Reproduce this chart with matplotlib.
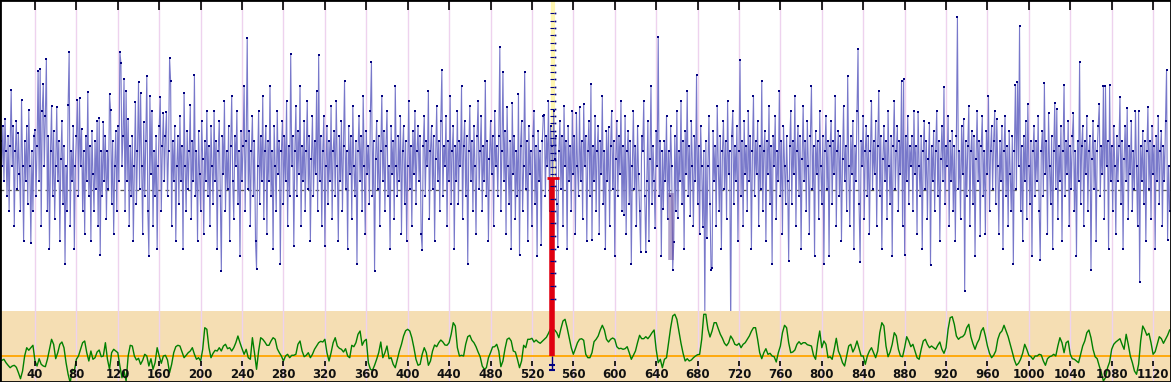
import numpy as np
import matplotlib
matplotlib.use("Agg")
import matplotlib.pyplot as plt
from matplotlib.patches import Rectangle

# blue series: height above the bottom of the upper panel, one value per step from x=7
blue = [
    170,145,185,130,192,160,115,175,100,165,221,145,185,85,160,190,122,178,137,100,211,145,70,170,130,185,107,201,145,68,160,100,175,181,115,165,240,130,242,85,
    200,227,145,195,252,100,175,62,160,205,115,180,92,145,204,130,170,70,152,190,107,165,47,145,100,206,259,85,160,130,185,62,145,175,211,115,213,145,182,100,
    160,77,175,130,219,115,165,70,180,137,100,170,122,190,85,193,56,160,115,189,130,175,92,160,122,217,201,107,170,77,145,180,100,185,130,259,248,145,175,232,
    100,220,130,192,85,165,115,175,70,145,209,107,160,229,122,218,145,77,189,115,170,235,100,55,215,137,200,85,160,115,175,62,145,185,214,100,165,198,130,175,
    199,115,160,253,230,85,170,130,185,70,145,175,107,195,130,165,62,218,145,100,180,122,160,206,92,170,130,236,115,160,70,180,137,100,190,152,77,170,130,200,
    115,165,85,185,145,107,200,130,170,62,160,190,115,40,175,137,210,100,160,122,185,70,165,215,130,92,175,145,200,107,160,55,180,130,165,225,100,170,273,122,
    180,85,160,195,115,170,70,42,145,200,107,175,130,215,92,160,185,77,170,130,225,115,160,62,185,145,100,200,137,170,47,160,190,107,175,130,210,85,165,115,
    257,145,175,65,160,205,115,180,137,225,85,165,130,190,100,160,210,122,175,70,152,195,115,170,137,220,100,256,130,175,85,160,195,65,145,185,107,170,130,205,
    92,160,180,115,210,145,70,175,130,190,100,165,230,122,160,62,185,137,175,92,205,145,115,170,47,160,195,130,175,100,215,145,77,180,137,165,107,200,249,115,
    170,40,152,190,122,175,85,160,215,130,180,100,165,200,115,145,62,185,137,170,92,225,145,115,175,130,195,77,160,185,107,170,70,145,210,122,165,85,180,137,
    200,107,160,185,130,175,77,61,165,195,115,170,145,220,92,160,185,122,175,70,152,205,130,170,100,190,241,115,165,145,195,85,170,130,215,107,160,185,62,165,
    130,200,107,170,145,225,92,165,190,115,175,47,160,205,130,170,100,185,145,77,175,210,122,160,195,100,165,130,230,115,170,70,152,190,137,175,85,200,145,165,
    115,175,264,100,160,239,130,180,77,204,145,107,170,62,208,137,175,92,160,115,217,56,165,190,100,145,239,122,170,70,185,137,160,85,175,200,107,165,55,180,
    130,160,66,170,195,196,115,175,145,210,100,185,165,130,200,152,175,107,64,160,190,122,175,85,205,145,170,62,185,130,165,100,200,137,175,77,198,145,115,204,
    130,170,92,207,145,175,70,160,190,115,227,71,165,130,195,100,160,185,77,170,137,215,107,160,62,180,130,184,85,165,200,122,170,55,152,190,115,175,137,210,
    100,165,96,195,77,160,180,107,170,47,145,200,122,165,85,185,137,100,59,175,160,210,115,59,130,190,70,152,225,107,165,130,83,180,145,274,115,170,55,160,
    102,170,130,195,92,160,115,185,145,41,69,175,100,200,93,160,130,210,107,170,62,180,137,220,115,165,95,190,145,85,175,130,236,107,165,77,185,145,84,160,
    -2,170,73,145,195,107,41,43,180,130,165,85,205,145,100,175,62,160,190,122,170,92,210,137,160,-19,175,200,107,165,130,185,70,160,251,115,170,85,190,137,
    165,100,200,130,175,62,160,215,115,170,137,190,85,165,122,230,100,160,180,70,170,137,205,107,165,47,175,145,195,92,160,130,220,115,170,77,185,145,107,175,
    130,50,165,200,107,170,137,215,85,160,185,115,175,62,152,205,130,170,100,190,145,77,175,225,122,165,55,180,137,170,92,200,145,107,175,47,160,195,122,170,
    55,165,190,107,170,137,215,85,160,180,115,175,70,152,205,130,165,100,235,145,85,175,137,190,62,165,130,200,262,107,49,170,145,195,92,160,185,115,175,77,
    160,210,122,170,137,190,85,165,220,115,175,62,152,185,130,170,92,200,145,107,175,55,165,210,122,160,185,100,170,137,230,85,232,56,175,130,195,107,165,145,
    175,100,200,137,165,77,199,145,115,175,62,160,190,122,170,92,152,188,46,165,130,180,100,160,200,115,170,70,152,185,130,224,107,165,145,195,85,170,130,180,
    100,165,70,175,294,122,160,92,185,137,192,20,170,115,165,205,85,160,180,107,175,55,152,200,130,170,75,165,195,115,160,77,180,137,215,100,160,185,122,170,
    200,107,192,145,77,170,130,185,62,160,195,115,165,85,180,137,100,175,47,160,226,122,229,145,285,100,165,70,175,130,190,92,207,145,107,170,55,160,185,115,
    170,130,195,100,51,160,180,115,228,137,170,77,198,145,107,175,62,160,208,122,202,92,165,130,185,70,160,226,115,170,137,190,85,165,122,175,198,100,160,55,
    170,130,249,107,165,185,85,170,137,195,100,160,175,41,152,190,122,170,70,160,185,207,115,165,137,225,92,225,145,170,62,226,130,165,100,185,145,77,175,130,
    165,214,107,170,62,152,185,130,203,92,165,137,190,100,160,122,200,145,85,200,29,165,130,180,107,170,70,160,204,122,170,92,185,137,165,62,175,130,195,107,
    160,180,85,165,130,190,241,71,145,100,
]

# green series (lower panel): offset from the orange reference line, every 2 steps from x=8
green = [
    -4.3,-3.3,-6.7,-9.3,-11.7,-10,-9.3,-11.3,-16.7,-22.7,-15,0,8.3,5.7,8.3,10.7,
    -5,-10,-2.7,-8.3,-10,-10.7,-3.3,6.7,16.7,11.7,-2.7,3.3,11.7,14,8.3,-6.7,-18.3,-26.7,-13.3,-15,
    -3.3,0,6.7,13.3,15,3.3,-5,5,-3.3,-1.7,4,6,-0.7,0,13.3,-3.3,-13.3,3.3,6.7,5,
    3.3,-10,-21.7,-15,-25,0,10.7,10,0,-4,-2.3,-8.3,-4.3,1.7,0,-10,-2.7,-13.3,-6.7,8.3,
    0,-7.3,0,0.7,-4,-16.7,-8.3,3.3,9.3,10.7,10,4,-1.7,0.7,3.3,5,8.3,1.7,-3.3,-1.7,
    -5,6.7,28.3,26.7,8.3,-1.7,2.7,5.7,5,8.3,5,10,11.7,7.3,8.3,5,8.3,13.3,20,13.3,
    7.3,1.7,6.7,-1.7,-3.3,18.3,3.3,-13.3,5,18.3,16.7,14,10.7,10.7,15,18.3,16.7,7.3,3.3,0,
    -5,0,1.7,-1.7,0.7,0.7,1.7,11.7,15,5,-0.7,0.7,3.3,-1.7,1.7,6.7,10,13.3,14.7,14,
    16.7,3.3,-5,3.3,13.3,18.3,10,7.7,6.7,4,7.3,0,-1.7,10.7,9.3,13.3,21.7,25,10.7,15,
    16.7,-6.7,-13.3,-14.3,-9.3,-3.3,3.3,14,-1.7,3.3,10,-2.7,-1.7,-8.3,-11.7,-3.3,5,11.7,20,25.3,
    26.7,25,18.3,8.3,-3.3,-9.3,-8.3,1.7,8.3,3.3,-9.3,-5,5,11,9.3,13.3,16,14,11,10.7,
    13.3,21.7,33.3,30,8.3,0,0.7,0,11.7,19.3,20.7,15.7,13.3,9.3,4,-0.7,-10,-13.3,-11.7,-1.7,
    3.3,9,9.3,11.7,5,-10.7,-5,7.3,16.7,18,15,5,4,-3.3,-11.7,-5,10.7,8.3,16.7,16.7,
    17.7,14,16,14,12.7,14.7,16.7,18.7,22.7,27.3,26.7,26,23.3,18.3,27.3,35,36.7,28.3,18.3,8.3,
    1.7,7.3,13.3,16.7,17.3,15.7,1.7,-1.7,-1.7,3.3,14.3,16.7,20,26,30.7,26,16.7,14,16.7,18,
    16.7,9.3,7.3,7.7,6.7,7.3,9.3,3.3,-3.3,0.7,5,13.3,20.7,17.3,17.3,19.3,17.3,20,23.3,26,
    6.7,-6.7,-3.3,-11.7,-3.3,-1.7,13.3,28.3,40,41.7,36.7,25,12.7,2.7,-5,-2.7,-5,-4,-1.7,0,
    1.3,1.7,16.7,41.7,41.7,26.7,19,25,33.3,33.3,27.3,21.7,17.7,12.7,10.3,13.3,20,16.7,11.7,10.7,
    12.7,8.3,11.7,13.3,16.7,20,24.7,28.3,28.3,16.7,3.3,-2.7,3.3,7.3,1.7,2.7,0,-0.7,-6,3.3,
    10,23.3,30.7,28.3,13.3,3.3,4,6,11.7,14.3,11.7,13.3,13.3,11.3,10.7,10,0.7,-3.3,13.3,25,
    8.3,15,11.7,-1.7,-0.7,-3.3,6.7,17.7,5,0,-6.7,-10,0,10,11.7,4,8.3,15,7.3,0,
    0,-8.3,0,5,8.3,3.3,-1.7,5,23.3,33.3,30,10,-0.7,4,11.7,23.3,20,6.7,0,-0.7,
    8.3,19.3,15,9.3,11.7,5,-1.7,-3.3,6.7,15,16.7,11.7,8.3,10,8.3,6.7,10.7,14,6.7,2.7,
    8.3,26.7,38.3,39.3,31.7,20,16.7,18.7,19.3,21.7,28.3,31.7,19.3,12.3,6.7,12.7,16.7,25,28.3,20,
    10,2.7,-1.7,0.7,5,16.7,22.7,25,30.7,25,19.3,11.7,4,-4,-9.3,-7.3,-3.3,2.7,11.7,6.7,
    0.7,-0.7,-3.3,0,0,1.7,1,-5,-9.3,-2.7,-0.7,0,1.7,0,10,18.3,13.3,3.3,13.3,15,
    1.7,-2.7,-3.3,-5,-6.7,1.7,10,15,23.3,26,18.3,6.7,-0.7,-2.7,-10,-16.7,-25,-21.7,-11.7,-6,
    6.7,11.7,14,15.7,17.3,11.7,6.7,21.7,11.7,0,-6.7,-15,-18.3,-8.3,15,30,26,20.7,22.7,13.3,
    1.7,4.3,11.7,19.3,17.3,12.7,16.7,20.7,26,
]

ticks = list(range(40, 1121, 40))
baseline = 121          # dashed reference line in the upper panel
marker_x = 539.5        # red marker column
marker_top = 133
ladder = [298, 290, 283, 276, 268, 261, 254, 246, 239, 232, 224, 217, 210, 202, 195, 188,
          180, 173, 166, 158, 151, 144, 137, 125, 112, 100, 88, 75, 62, 50, 38, 25, 12]
shade = (654.5, 51, 118)

xb = np.arange(7, 7 + len(blue))
xg = 8 + 2 * np.arange(len(green))
xlim = (6.2, 1137.3)

fig = plt.figure(figsize=(11.71, 3.82), dpi=100)
ax = fig.add_axes([0, 71 / 382, 1, 311 / 382])
axb = fig.add_axes([0, 0, 1, 71 / 382], facecolor="#f5deb3")

for a in (ax, axb):
    a.set_xlim(*xlim)
    a.set_xticks([])
    a.set_yticks([])
    for s in a.spines.values():
        s.set_visible(False)
    a.vlines(ticks, -100, 400, color="#eed2ee", lw=1, zorder=0)

ax.set_ylim(0, 311)
axb.set_ylim(-26, 45)

# black top tick marks
ax.vlines(ticks, 301, 311, color="black", lw=1.2, zorder=5)

ax.axhline(baseline, color="#555555", lw=0.9, ls=(0, (3, 3)), zorder=1)

# yellow column above the red marker
ax.vlines(marker_x + 0.5, marker_top, 311, color="#fff6b0", lw=3, zorder=1)

ax.plot(xb, blue, color="#7878ca", lw=0.8, zorder=2)
ax.plot(xb, blue, ls="none", marker="s", ms=1.8, mfc="#000080", mec="#000080", mew=0, zorder=3)

ax.vlines(shade[0], shade[1], shade[2], color="#6a4a9a", lw=4, alpha=0.5, zorder=3)

# red marker
ax.vlines(marker_x, -10, marker_top, color="#e00010", lw=4, zorder=4)
ax.hlines(marker_top, marker_x - 5, marker_x + 7, color="#e00010", lw=2, zorder=4)
ax.plot([marker_x] * len(ladder), ladder, ls="none", marker="_", ms=3.5, mew=0.8,
        color="#000080", zorder=5)
ax.plot([marker_x + 2.5] * len(ladder), ladder, ls="none", marker="s", ms=1.2, mew=0,
        color="#000080", zorder=5)

axb.vlines(marker_x, 0, 50, color="#e00010", lw=4, zorder=4)
axb.vlines(marker_x, -14, 0, color="#000080", lw=1, zorder=4)
axb.plot([marker_x, marker_x], [-9, -14], ls="none", marker="_", ms=5, mew=1.5,
         color="#000080", zorder=5)

axb.axhline(0, color="#ffa500", lw=1.3, zorder=1)
axb.plot(xg, green, color="#008000", lw=1, zorder=2)

axb.vlines(ticks, -10, -5, color="black", lw=1.2, zorder=5)
for t in ticks:
    axb.text(t, -19, str(t), ha="center", va="center", fontsize=8.5,
             fontweight="bold", color="#111111", zorder=6)

fig.add_artist(Rectangle((0, 0), 1, 1, transform=fig.transFigure, fill=False,
                         lw=2, ec="black"))

fig.savefig("out.png", dpi=100)
